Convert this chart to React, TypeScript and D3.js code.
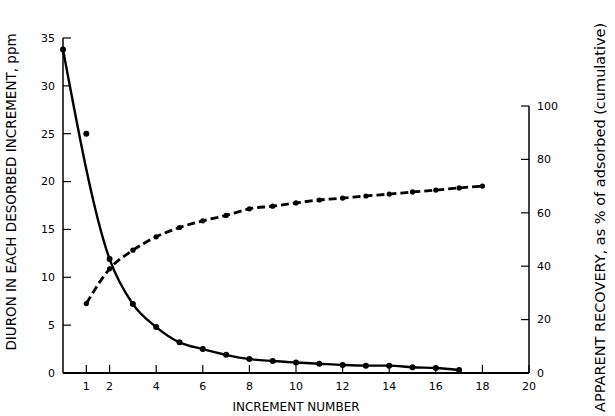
import React from "react";
import * as d3 from "d3";

// desorbed diuron per increment, ppm (left axis)
const incX = [0, 1, 2, 3, 4, 5, 6, 7, 8, 9, 10, 11, 12, 13, 14, 15, 16, 17];
const ppm = [33.8, 25, 11.9, 7.2, 4.8, 3.2, 2.5, 1.9, 1.45, 1.25, 1.1, 0.97, 0.84, 0.77, 0.77, 0.6, 0.52, 0.31];
// x=1 point sits off the fitted curve
const offCurve = [1];

// cumulative apparent recovery, % (right axis)
const recX = [1, 2, 3, 4, 5, 6, 7, 8, 9, 10, 11, 12, 13, 14, 15, 16, 17, 18];
const recovery = [26, 39, 46, 51, 54.5, 57, 59, 61.5, 62.5, 63.7, 64.8, 65.5, 66.3, 67, 67.8, 68.5, 69.3, 70];

const xTicks = [1, 2, 4, 6, 8, 10, 12, 14, 16, 18, 20];
const leftTicks = [0, 5, 10, 15, 20, 25, 30, 35];
const rightTicks = [0, 20, 40, 60, 80, 100];

const W = 615;
const H = 416;
const margin = { top: 38, right: 86, bottom: 43, left: 63 };
const font = "'DejaVu Sans', sans-serif";

export default function App() {
  const x = d3.scaleLinear().domain([0, 20]).range([margin.left, W - margin.right]);
  const yL = d3.scaleLinear().domain([0, 35]).range([H - margin.bottom, margin.top]);
  // right axis is shorter: 100% tops out lower than 35 ppm
  const yRight = d3.scaleLinear().domain([0, 100]).range([H - margin.bottom, 106]);

  const solidPts = incX.map((v, i) => [v, ppm[i]] as [number, number]).filter((d) => !offCurve.includes(d[0]));
  const solid = d3
    .line<[number, number]>()
    .x((d) => x(d[0]))
    .y((d) => yL(d[1]))
    .curve(d3.curveMonotoneX)(solidPts);

  const dashPts = recX.map((v, i) => [v, recovery[i]] as [number, number]);
  const dashed = d3
    .line<[number, number]>()
    .x((d) => x(d[0]))
    .y((d) => yRight(d[1]))
    .curve(d3.curveMonotoneX)(dashPts);

  const y0 = H - margin.bottom;
  const xr = W - margin.right;

  return (
    <svg width={W} height={H} style={{ position: "absolute", left: 0, top: 0, background: "#fff" }} fontFamily={font}>
      {/* frame lines */}
      <line x1={margin.left} x2={margin.left} y1={margin.top} y2={y0} stroke="#000" strokeWidth={1.5} />
      <line x1={margin.left} x2={xr} y1={y0} y2={y0} stroke="#000" strokeWidth={2} />
      <line x1={xr} x2={xr} y1={yRight(100)} y2={y0} stroke="#000" strokeWidth={1.5} />

      {/* left ticks */}
      {leftTicks.map((t) => (
        <g key={"l" + t}>
          <line x1={margin.left} x2={margin.left + 8} y1={yL(t)} y2={yL(t)} stroke="#000" strokeWidth={1.2} />
          <text x={margin.left - 8} y={yL(t)} dy="0.35em" textAnchor="end" fontSize={11}>
            {t}
          </text>
        </g>
      ))}

      {/* right ticks */}
      {rightTicks.map((t) => (
        <g key={"r" + t}>
          <line x1={xr - 8} x2={xr} y1={yRight(t)} y2={yRight(t)} stroke="#000" strokeWidth={1.2} />
          <text x={xr + 8} y={yRight(t)} dy="0.35em" textAnchor="start" fontSize={11}>
            {t}
          </text>
        </g>
      ))}

      {/* bottom ticks */}
      {xTicks.map((t) => (
        <g key={"x" + t}>
          <line x1={x(t)} x2={x(t)} y1={y0} y2={y0 - 8} stroke="#000" strokeWidth={1.2} />
          <text x={x(t)} y={y0 + 17} textAnchor="middle" fontSize={11}>
            {t}
          </text>
        </g>
      ))}

      {/* curves */}
      <path d={solid ?? ""} fill="none" stroke="#000" strokeWidth={2.4} />
      <path d={dashed ?? ""} fill="none" stroke="#000" strokeWidth={2.8} strokeDasharray="8,4" />

      {incX.map((v, i) => (
        <circle key={"p" + i} cx={x(v)} cy={yL(ppm[i])} r={3} fill="#000" />
      ))}
      {recX.map((v, i) => (
        <circle key={"q" + i} cx={x(v)} cy={yRight(recovery[i])} r={2.6} fill="#000" />
      ))}

      {/* titles */}
      <text transform={`translate(16, 192) rotate(-90)`} textAnchor="middle" fontSize={13.5}>
        DIURON IN EACH DESORBED INCREMENT, ppm
      </text>
      <text transform={`translate(605, 412) rotate(-90)`} textAnchor="start" fontSize={14.5}>
        APPARENT RECOVERY, as % of adsorbed (cumulative)
      </text>
      <text x={(margin.left + xr) / 2} y={411} textAnchor="middle" fontSize={12}>
        INCREMENT NUMBER
      </text>
    </svg>
  );
}
